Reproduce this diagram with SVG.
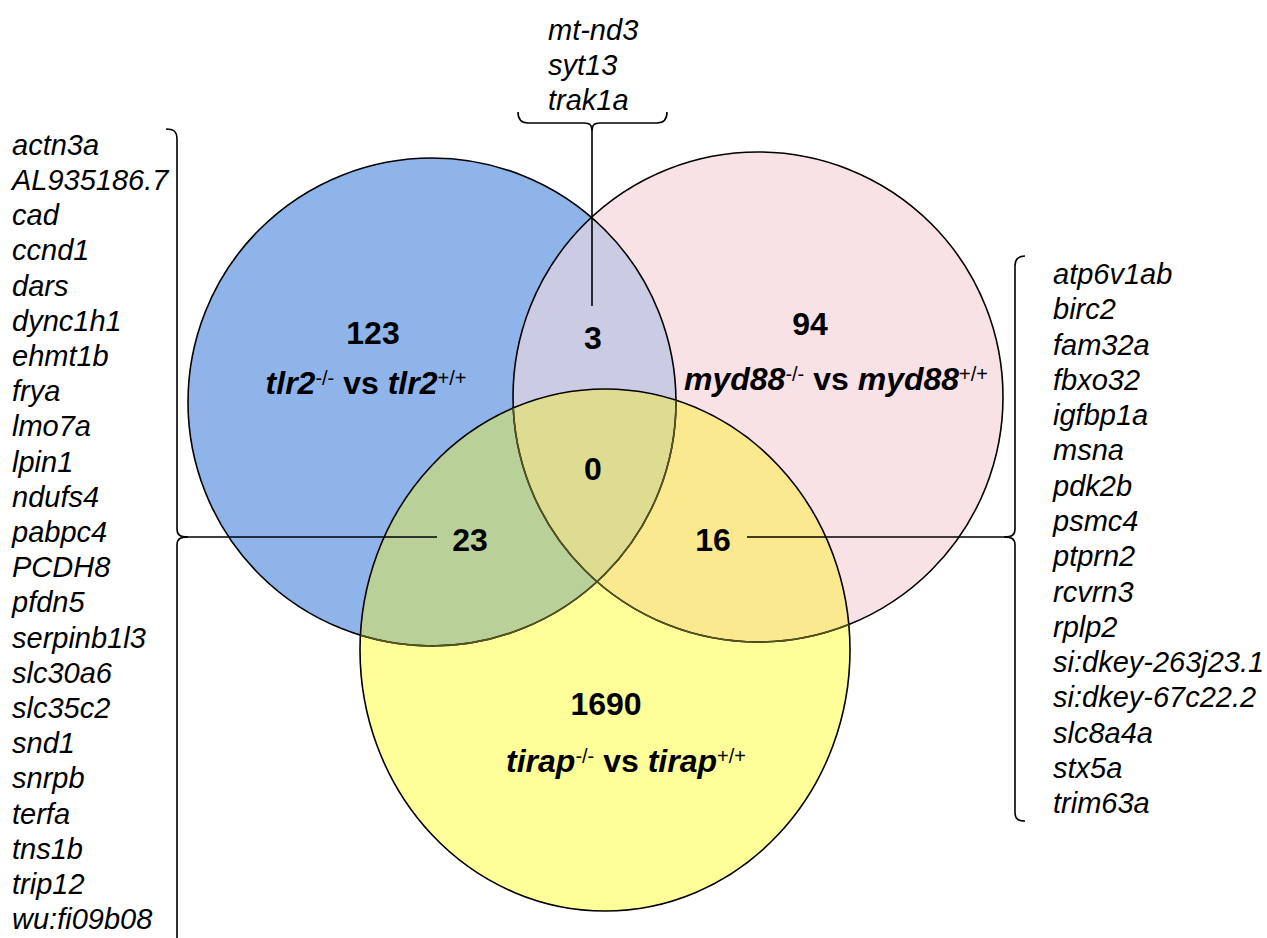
<svg xmlns="http://www.w3.org/2000/svg" width="1267" height="938" viewBox="0 0 1267 938">
<style>
.gene{font-family:"Liberation Sans",Arial,sans-serif;font-style:italic;font-size:29px;fill:#000}
.num{font-family:"Liberation Sans",Arial,sans-serif;font-weight:bold;font-size:32px;fill:#000;text-anchor:middle}
.lbl{font-family:"Liberation Sans",Arial,sans-serif;font-weight:bold;font-size:32px;fill:#000;text-anchor:middle}
.it{font-style:italic}
.sup{font-size:20px;font-weight:normal;font-style:normal}
.edge{fill:none;stroke:#000;stroke-width:1.6}
.inner{fill:none;stroke:#55551f;stroke-width:1.6}
.brace{fill:none;stroke:#000;stroke-width:1.6}
</style>
<defs>
<clipPath id="cB"><circle cx="432" cy="402" r="244"/></clipPath>
<clipPath id="cP"><circle cx="758" cy="397" r="245"/></clipPath>
<clipPath id="cY"><ellipse cx="605" cy="650" rx="245" ry="261"/></clipPath>
</defs>
<g id="sets">
<circle id="blue" cx="432" cy="402" r="244" fill="#8eb4e9"/>
<circle id="pink" cx="758" cy="397" r="245" fill="#f9e2e6"/>
<ellipse id="yellow" cx="605" cy="650" rx="245" ry="261" fill="#ffff99"/>
<circle cx="758" cy="397" r="245" fill="#cccbe4" clip-path="url(#cB)"/>
<ellipse cx="605" cy="650" rx="245" ry="261" fill="#b9d199" clip-path="url(#cB)"/>
<ellipse cx="605" cy="650" rx="245" ry="261" fill="#fae98f" clip-path="url(#cP)"/>
<g clip-path="url(#cB)"><ellipse cx="605" cy="650" rx="245" ry="261" fill="#dedc91" clip-path="url(#cP)"/></g>
<circle class="edge" cx="432" cy="402" r="244"/>
<circle class="edge" cx="758" cy="397" r="245"/>
<ellipse class="edge" cx="605" cy="650" rx="245" ry="261"/>
<g clip-path="url(#cY)">
<circle class="inner" cx="432" cy="402" r="244"/>
<circle class="inner" cx="758" cy="397" r="245"/>
</g>
</g>
<g id="connectors">
<path class="brace" d="M166,129 C173,129 177,131 177,139 L177,529 C177,535 180,537 188,537"/>
<path class="brace" d="M188,537 C180,537 177,539 177,545 L177,940"/>
<path class="brace" d="M188,537 L437,537"/>
<path class="brace" d="M518,112 C518,119 521,123 528,123 L584,123 C590,123 592,125 592,131"/>
<path class="brace" d="M592,131 C592,125 594,123 600,123 L657,123 C664,123 667,119 667,112"/>
<path class="brace" d="M592,131 L592,306"/>
<path class="brace" d="M1025,256 C1018,256 1015,259 1015,266 L1015,529 C1015,535 1012,537 1004,537"/>
<path class="brace" d="M1004,537 C1012,537 1015,539 1015,545 L1015,812 C1015,819 1018,821 1025,821"/>
<path class="brace" d="M747,537 L1004,537"/>
</g>
<g id="tlr2">
<text class="num" x="373" y="344">123</text>
<text class="lbl" x="366" y="394"><tspan class="it">tlr2</tspan><tspan class="sup" dy="-9">-/-</tspan><tspan dy="9"> vs </tspan><tspan class="it">tlr2</tspan><tspan class="sup" dy="-9">+/+</tspan></text>
</g>
<g id="myd88">
<text class="num" x="810" y="335">94</text>
<text class="lbl" x="836" y="390"><tspan class="it">myd88</tspan><tspan class="sup" dy="-9">-/-</tspan><tspan dy="9"> vs </tspan><tspan class="it">myd88</tspan><tspan class="sup" dy="-9">+/+</tspan></text>
</g>
<g id="tirap">
<text class="num" x="606" y="715">1690</text>
<text class="lbl" x="626" y="772"><tspan class="it">tirap</tspan><tspan class="sup" dy="-9">-/-</tspan><tspan dy="9"> vs </tspan><tspan class="it">tirap</tspan><tspan class="sup" dy="-9">+/+</tspan></text>
</g>
<g id="overlaps">
<text class="num" x="593" y="349">3</text>
<text class="num" x="593" y="480">0</text>
<text class="num" x="470" y="551">23</text>
<text class="num" x="713" y="551">16</text>
</g>
<g id="list-top">
<text class="gene" x="548" y="40">mt-nd3</text>
<text class="gene" x="548" y="75">syt13</text>
<text class="gene" x="548" y="110">trak1a</text>
</g>
<g id="list-left">
<text class="gene" x="12" y="155">actn3a</text>
<text class="gene" x="12" y="190">AL935186.7</text>
<text class="gene" x="12" y="225">cad</text>
<text class="gene" x="12" y="260">ccnd1</text>
<text class="gene" x="12" y="296">dars</text>
<text class="gene" x="12" y="331">dync1h1</text>
<text class="gene" x="12" y="366">ehmt1b</text>
<text class="gene" x="12" y="401">frya</text>
<text class="gene" x="12" y="436">lmo7a</text>
<text class="gene" x="12" y="472">lpin1</text>
<text class="gene" x="12" y="507">ndufs4</text>
<text class="gene" x="12" y="542">pabpc4</text>
<text class="gene" x="12" y="577">PCDH8</text>
<text class="gene" x="12" y="612">pfdn5</text>
<text class="gene" x="12" y="648">serpinb1l3</text>
<text class="gene" x="12" y="683">slc30a6</text>
<text class="gene" x="12" y="718">slc35c2</text>
<text class="gene" x="12" y="753">snd1</text>
<text class="gene" x="12" y="788">snrpb</text>
<text class="gene" x="12" y="824">terfa</text>
<text class="gene" x="12" y="859">tns1b</text>
<text class="gene" x="12" y="894">trip12</text>
<text class="gene" x="12" y="929">wu:fi09b08</text>
</g>
<g id="list-right">
<text class="gene" x="1053" y="284">atp6v1ab</text>
<text class="gene" x="1053" y="319">birc2</text>
<text class="gene" x="1053" y="355">fam32a</text>
<text class="gene" x="1053" y="390">fbxo32</text>
<text class="gene" x="1053" y="425">igfbp1a</text>
<text class="gene" x="1053" y="460">msna</text>
<text class="gene" x="1053" y="496">pdk2b</text>
<text class="gene" x="1053" y="531">psmc4</text>
<text class="gene" x="1053" y="566">ptprn2</text>
<text class="gene" x="1053" y="602">rcvrn3</text>
<text class="gene" x="1053" y="637">rplp2</text>
<text class="gene" x="1053" y="672">si:dkey-263j23.1</text>
<text class="gene" x="1053" y="707">si:dkey-67c22.2</text>
<text class="gene" x="1053" y="743">slc8a4a</text>
<text class="gene" x="1053" y="778">stx5a</text>
<text class="gene" x="1053" y="813">trim63a</text>
</g>
</svg>
